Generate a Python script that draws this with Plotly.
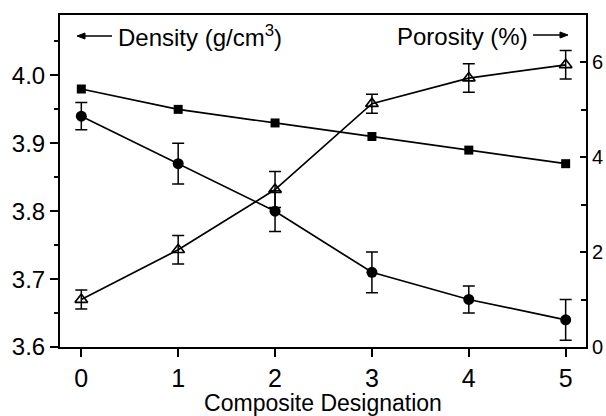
import plotly.graph_objects as go

designation = [0, 1, 2, 3, 4, 5]
density_theoretical = [3.98, 3.95, 3.93, 3.91, 3.89, 3.87]
density_measured = [3.94, 3.87, 3.80, 3.71, 3.67, 3.64]
density_err = [0.02, 0.03, 0.03, 0.03, 0.02, 0.03]
porosity = [1.0, 2.05, 3.32, 5.13, 5.67, 5.95]
porosity_err = [0.2, 0.3, 0.38, 0.2, 0.3, 0.3]

FONT = "Liberation Sans, Arial, sans-serif"
W, H = 606, 416
ML, MR, MT, MB = 60, 20, 15, 69
PW, PH = W - ML - MR, H - MT - MB


def px(x):
    return (x - ML) / PW


def py(y):
    return (H - MB - y) / PH


fig = go.Figure()

fig.add_trace(go.Scatter(
    x=designation, y=density_theoretical, mode="lines+markers",
    line=dict(color="black", width=1.7),
    marker=dict(symbol="square", size=9, color="black"),
    showlegend=False))

fig.add_trace(go.Scatter(
    x=designation, y=density_measured, mode="lines+markers",
    line=dict(color="black", width=1.7),
    marker=dict(symbol="circle", size=11, color="black"),
    error_y=dict(type="data", array=density_err, color="black", thickness=1.5, width=6),
    showlegend=False))

fig.add_trace(go.Scatter(
    x=designation, y=porosity, mode="lines+markers", yaxis="y2",
    line=dict(color="black", width=1.7),
    marker=dict(symbol="triangle-up-open", size=11, color="black", line=dict(width=1.7)),
    error_y=dict(type="data", array=porosity_err, color="black", thickness=1.5, width=6),
    showlegend=False))


def arrow(x_tail, x_tip, y):
    d = 1 if x_tip > x_tail else -1
    base = x_tip - d * 8
    return [
        dict(type="line", xref="paper", yref="paper",
             x0=px(x_tail), x1=px(base), y0=py(y), y1=py(y),
             line=dict(color="black", width=1.5)),
        dict(type="path", xref="paper", yref="paper",
             path=f"M {px(x_tip)} {py(y)} L {px(base)} {py(y - 3)} L {px(base)} {py(y + 3)} Z",
             fillcolor="black", line=dict(color="black", width=1)),
    ]


shapes = arrow(112, 77, 36) + arrow(533, 568, 35)

fig.update_layout(
    width=W, height=H,
    margin=dict(l=ML, r=MR, t=MT, b=MB),
    paper_bgcolor="white", plot_bgcolor="white",
    font=dict(family=FONT, size=22, color="black"),
    xaxis=dict(
        range=[-0.22, 5.21], tickmode="linear", tick0=0, dtick=1,
        showgrid=False, zeroline=False, automargin=False,
        showline=True, linecolor="black", linewidth=2, mirror=True,
        ticks="outside", ticklen=8, tickwidth=1.5, tickcolor="black",
        tickfont=dict(size=25),
        title=dict(text="Composite Designation", font=dict(size=23), standoff=6),
    ),
    yaxis=dict(
        range=[3.6, 4.089], tickmode="linear", tick0=3.6, dtick=0.1, tickformat=".1f",
        showgrid=False, zeroline=False, automargin=False,
        showline=True, linecolor="black", linewidth=2,
        ticks="outside", ticklen=8, tickwidth=1.5, tickcolor="black",
        minor=dict(dtick=0.05, ticks="outside", ticklen=4, tickwidth=1.5, tickcolor="black", showgrid=False),
        tickfont=dict(size=24),
    ),
    yaxis2=dict(
        range=[0, 7], overlaying="y", side="right", tickmode="linear", tick0=0, dtick=2,
        showgrid=False, zeroline=False, automargin=False,
        showline=True, linecolor="black", linewidth=2,
        ticks="inside", ticklen=6, tickwidth=1.5, tickcolor="black",
        minor=dict(dtick=1, ticks="inside", ticklen=5, tickwidth=1.5, tickcolor="black", showgrid=False),
        tickfont=dict(size=20),
    ),
    shapes=shapes,
    annotations=[
        dict(text="Density (g/cm<sup>3</sup>)", xref="paper", yref="paper",
             x=px(116), y=py(36), xanchor="left", yanchor="middle", showarrow=False,
             font=dict(size=24)),
        dict(text="Porosity (%)", xref="paper", yref="paper",
             x=px(395), y=py(36), xanchor="left", yanchor="middle", showarrow=False,
             font=dict(size=24)),
    ],
)

fig.write_html("out.html", config={"displayModeBar": False},
               post_script="document.body.style.margin='0';")
